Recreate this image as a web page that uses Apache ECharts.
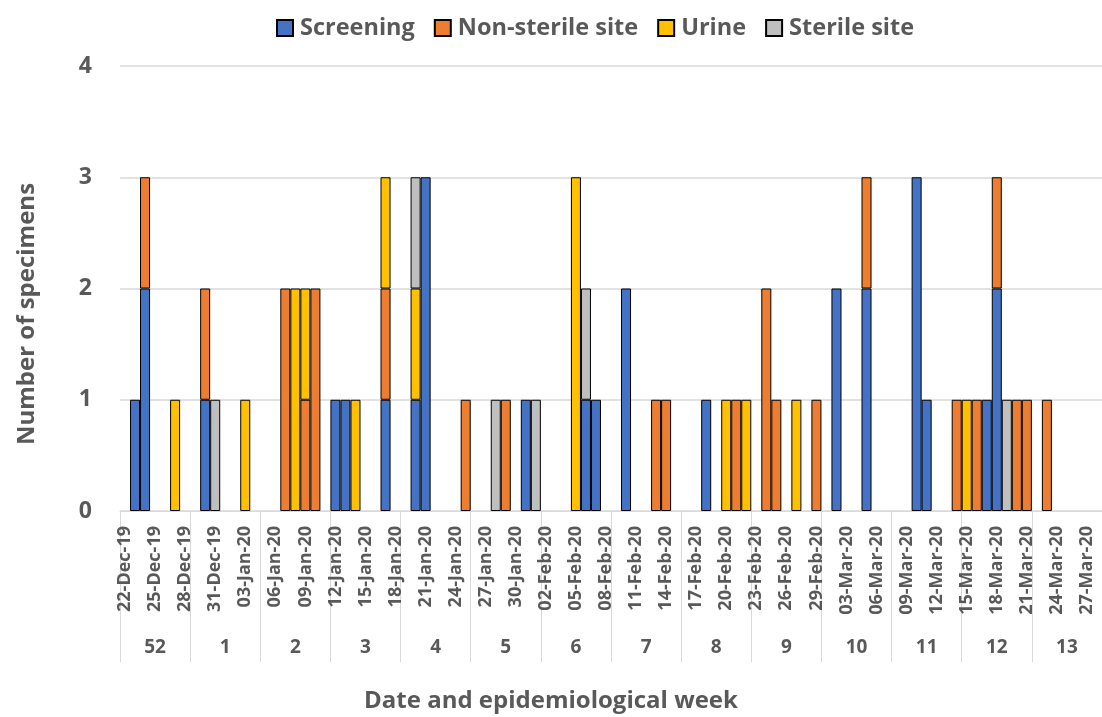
<!DOCTYPE html>
<html>
<head>
<meta charset="utf-8">
<script src="https://cdn.jsdelivr.net/npm/echarts@6/dist/echarts.min.js"></script>
<style>html,body{margin:0;padding:0;background:#fff}#c{width:1102px;height:717px}</style>
</head>
<body>
<div id="c"></div>
<script>
// 98 days: 22-Dec-2019 .. 28-Mar-2020 (one row per epidemiological week)
const startDate = [2019, 11, 22];
const dayCount = 98;
const weeks = ['52','1','2','3','4','5','6','7','8','9','10','11','12','13'];
const seriesNames = ['Screening', 'Non-sterile site', 'Urine', 'Sterile site'];
const screening = [
  0,1,2,0,0,0,0,  0,1,0,0,0,0,0,  0,0,0,0,0,0,0,  1,1,0,0,0,1,0,
  0,1,3,0,0,0,0,  0,0,0,0,0,1,0,  0,0,0,0,1,1,0,  0,2,0,0,0,0,0,
  0,0,1,0,0,0,0,  0,0,0,0,0,0,0,  0,2,0,0,2,0,0,  0,0,3,1,0,0,0,
  0,0,1,2,0,0,0,  0,0,0,0,0,0,0
];
const nonSterile = [
  0,0,1,0,0,0,0,  0,1,0,0,0,0,0,  0,0,2,0,1,2,0,  0,0,0,0,0,1,0,
  0,0,0,0,0,0,1,  0,0,0,1,0,0,0,  0,0,0,0,0,0,0,  0,0,0,0,1,1,0,
  0,0,0,0,0,1,0,  0,2,1,0,0,0,1,  0,0,0,0,1,0,0,  0,0,0,0,0,0,1,
  0,1,0,1,0,1,1,  0,1,0,0,0,0,0
];
const urine = [
  0,0,0,0,0,1,0,  0,0,0,0,0,1,0,  0,0,0,2,1,0,0,  0,0,1,0,0,1,0,
  0,1,0,0,0,0,0,  0,0,0,0,0,0,0,  0,0,0,3,0,0,0,  0,0,0,0,0,0,0,
  0,0,0,0,1,0,1,  0,0,0,0,1,0,0,  0,0,0,0,0,0,0,  0,0,0,0,0,0,0,
  1,0,0,0,0,0,0,  0,0,0,0,0,0,0
];
const sterile = [
  0,0,0,0,0,0,0,  0,0,1,0,0,0,0,  0,0,0,0,0,0,0,  0,0,0,0,0,0,0,
  0,1,0,0,0,0,0,  0,0,1,0,0,0,1,  0,0,0,0,1,0,0,  0,0,0,0,0,0,0,
  0,0,0,0,0,0,0,  0,0,0,0,0,0,0,  0,0,0,0,0,0,0,  0,0,0,0,0,0,0,
  0,0,0,0,1,0,0,  0,0,0,0,0,0,0
];
const yTicks = [0, 1, 2, 3, 4];
const yTitle = 'Number of specimens';
const xTitle = 'Date and epidemiological week';

const months = ['Jan','Feb','Mar','Apr','May','Jun','Jul','Aug','Sep','Oct','Nov','Dec'];
const dates = [];
for (let i = 0; i < dayCount; i++) {
  const d = new Date(startDate[0], startDate[1], startDate[2] + i);
  dates.push(String(d.getDate()).padStart(2,'0') + '-' + months[d.getMonth()] + '-' + String(d.getFullYear()).slice(2));
}
const colors = ['#4472C4', '#ED7D31', '#FFC000', '#BFBFBF'];
const values = [screening, nonSterile, urine, sterile];
const FONT = 'Open Sans';
const GREY = '#595959';

const chart = echarts.init(document.getElementById('c'));
chart.setOption({
  animation: false,
  textStyle: { fontFamily: FONT },
  color: colors,
  legend: {
    top: 11, left: 271,
    itemWidth: 16, itemHeight: 16, itemGap: 19,
    icon: 'rect',
    textStyle: { fontSize: 23.5, fontWeight: 'bold', color: GREY, fontFamily: FONT, padding: [0, 0, 0, 2] },
    data: seriesNames
  },
  title: {
    text: xTitle,
    left: 'center', top: 684,
    textStyle: { fontSize: 24, fontWeight: 'bold', color: GREY, fontFamily: FONT }
  },
  graphic: [{
    type: 'text', x: 27, y: 314, rotation: Math.PI / 2,
    style: { text: yTitle, fill: GREY, font: 'bold 24px "Open Sans"', textAlign: 'center', textVerticalAlign: 'middle' }
  }],
  grid: { left: 120, right: -8, top: 66, bottom: 206, containLabel: false },
  xAxis: [
    {
      type: 'category', data: dates, boundaryGap: true,
      axisLine: { show: true, lineStyle: { color: '#D9D9D9', width: 1 } },
      axisTick: { show: false },
      axisLabel: { interval: 2, rotate: 90, margin: 15, fontSize: 18, fontWeight: 'bold', color: GREY, fontFamily: FONT }
    },
    {
      type: 'category', data: weeks, position: 'bottom', boundaryGap: true,
      axisLine: { show: false },
      axisTick: { show: true, length: 151, lineStyle: { color: '#D9D9D9', width: 1 } },
      axisLabel: { margin: 127, fontSize: 19, fontWeight: 'bold', color: GREY, fontFamily: FONT }
    }
  ],
  yAxis: {
    type: 'value', min: yTicks[0], max: yTicks[yTicks.length - 1], interval: 1,
    axisLine: { show: false }, axisTick: { show: false },
    axisLabel: { margin: 28, fontSize: 23, fontWeight: 'bold', color: GREY, fontFamily: FONT },
    splitLine: { lineStyle: { color: '#D9D9D9', width: 1.5 } }
  },
  series: seriesNames.map((name, k) => ({
    name, type: 'bar', stack: 'total', xAxisIndex: 0,
    barCategoryGap: '0%',
    itemStyle: { color: colors[k], borderColor: '#000', borderWidth: 1 },
    data: values[k].map(v => v === 0 ? '-' : v)
  }))
});
</script>
</body>
</html>
